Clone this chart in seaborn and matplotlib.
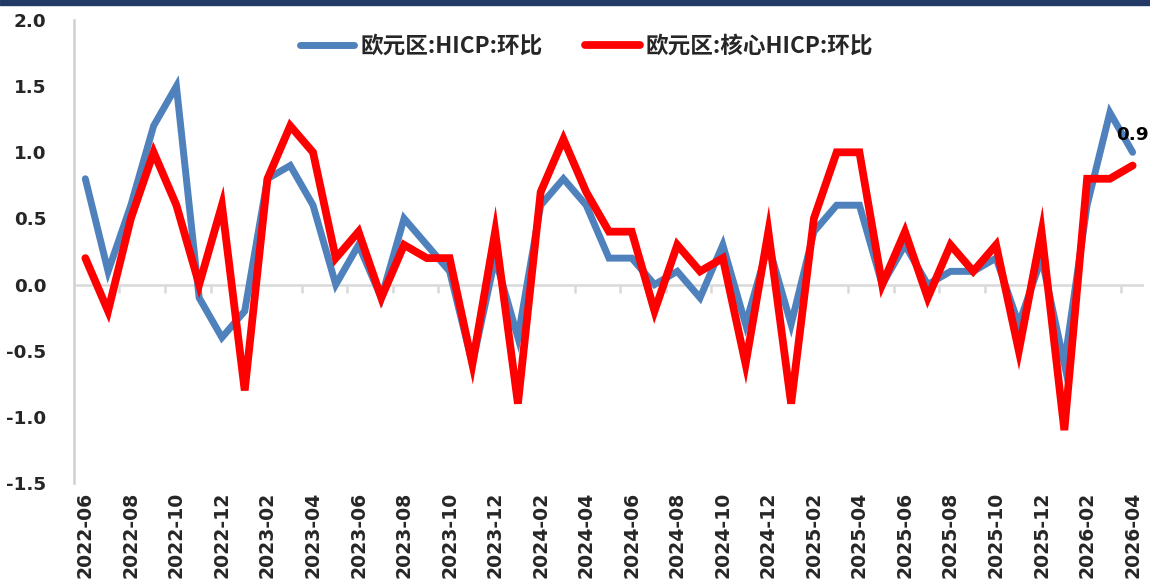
import numpy as np
import pandas as pd
import matplotlib
matplotlib.use("Agg")
import matplotlib.pyplot as plt
from matplotlib.lines import Line2D
import seaborn as sns

# Monthly categories, 2022-06 .. 2026-04
months = pd.period_range("2022-06", "2026-04", freq="M").strftime("%Y-%m").tolist()

hicp_mom = [0.8, 0.1, 0.6, 1.2, 1.5, -0.1, -0.4, -0.2, 0.8, 0.9, 0.6, 0.0,
            0.3, -0.1, 0.5, 0.3, 0.1, -0.6, 0.2, -0.4, 0.6, 0.8, 0.6, 0.2,
            0.2, 0.0, 0.1, -0.1, 0.3, -0.3, 0.3, -0.3, 0.4, 0.6, 0.6, 0.0,
            0.3, 0.0, 0.1, 0.1, 0.2, -0.3, 0.2, -0.6, 0.6, 1.3, 1.0]

core_mom = [0.2, -0.2, 0.5, 1.0, 0.6, 0.0, 0.6, -0.8, 0.8, 1.2, 1.0, 0.2,
            0.4, -0.1, 0.3, 0.2, 0.2, -0.6, 0.4, -0.9, 0.7, 1.1, 0.7, 0.4,
            0.4, -0.2, 0.3, 0.1, 0.2, -0.6, 0.4, -0.9, 0.5, 1.0, 1.0, 0.0,
            0.4, -0.1, 0.3, 0.1, 0.3, -0.5, 0.4, -1.1, 0.8, 0.8, 0.9]

series_names = ["欧元区:HICP:环比", "欧元区:核心HICP:环比"]
series_colors = ["#4F81BD", "#FF0000"]
y_ticks = [-1.5, -1.0, -0.5, 0.0, 0.5, 1.0, 1.5, 2.0]

n = len(months)
idx = np.arange(n)
df = pd.concat([
    pd.DataFrame({"pos": idx, "month": months, "value": hicp_mom, "series": series_names[0]}),
    pd.DataFrame({"pos": idx, "month": months, "value": core_mom, "series": series_names[1]}),
], ignore_index=True)

sns.set_style("white")
plt.rcParams["font.family"] = ["DejaVu Sans", "Noto Sans CJK SC"]

fig = plt.figure(figsize=(11.5, 5.8), dpi=100)
ax = fig.add_axes([0.0643, 0.1672, 0.9305, 0.7983])

# dark band across the top edge
fig.patches.append(plt.Rectangle((0, 0.991), 1, 0.009, transform=fig.transFigure,
                                 color="#243A66", zorder=10))

ax.axhline(0, color="#D9D9D9", lw=1.8, zorder=1)

sns.lineplot(data=df, x="pos", y="value", hue="series",
             palette=dict(zip(series_names, series_colors)),
             hue_order=series_names, ax=ax, legend=False, sort=False,
             estimator=None, zorder=3)
lws = [5.0, 5.6]
for line, lw in zip(ax.get_lines()[-2:], lws):
    line.set_linewidth(lw)
    line.set_solid_joinstyle("miter")

# category-boundary tick marks hanging under the zero line
bounds = np.arange(1.5, n - 1, 2)
ax.vlines(bounds, -0.06, 0, colors="#D9D9D9", lw=1.8, zorder=1)

ax.set_xlim(-0.5, n - 0.5)
ax.set_ylim(-1.5, 2.0)
ax.set_yticks(y_ticks)
ax.set_yticklabels([f"{v:.1f}" for v in y_ticks], fontsize=13.2, fontweight="bold")
ax.set_xticks(idx[::2])
ax.set_xticklabels(months[::2], rotation=90, fontsize=13.6, fontweight="bold")
ax.tick_params(axis="y", length=0, pad=20)
ax.tick_params(axis="x", length=0, pad=6)
ax.set_xlabel("")
ax.set_ylabel("")

for side in ["top", "right", "bottom"]:
    ax.spines[side].set_visible(False)
ax.spines["left"].set_color("#D0D0D0")
ax.spines["left"].set_linewidth(1.8)

# last value label for the core series
ax.annotate(f"{core_mom[-1]:.1f}", xy=(idx[-1], core_mom[-1]), xytext=(0, 22),
            textcoords="offset points", ha="center", va="center",
            fontsize=13.2, fontweight="bold", color="black", zorder=5)

handles = [Line2D([], [], color=c, lw=w, solid_capstyle="round")
           for c, w in zip(series_colors, lws)]
ax.legend(handles, series_names, loc="center", bbox_to_anchor=(0.479, 0.943),
          ncol=2, frameon=False,
          prop={"family": ["Noto Sans CJK SC", "DejaVu Sans"], "size": 16.3, "weight": "bold"},
          handlelength=2.4, handletextpad=0.25, columnspacing=1.9)

fig.savefig("out.png", dpi=100)
